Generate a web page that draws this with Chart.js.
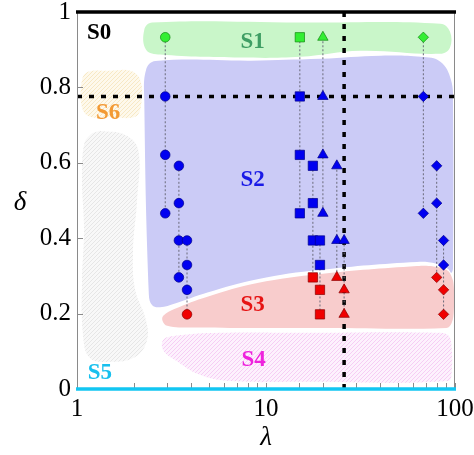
<!DOCTYPE html>
<html>
<head>
<meta charset="utf-8">
<script src="https://cdn.jsdelivr.net/npm/chart.js@4.4.0/dist/chart.umd.min.js"></script>
<style>
  html, body { margin: 0; padding: 0; background: #fff; }
</style>
</head>
<body>
<canvas id="chart" width="474" height="455"></canvas>
<script>
// tick labels
var xLabels = [1, 10, 100];

// critical values (dashed lines)
var deltaCrit = 0.776;
var lambdaCrit = 25.9;

// markers [lambda, delta]
var circleGreen = [[2.93, 0.933]];
var circleBlue = [[2.93, 0.776], [2.93, 0.621], [2.93, 0.466],
  [3.46, 0.592], [3.46, 0.493], [3.46, 0.394], [3.46, 0.296],
  [3.82, 0.394], [3.82, 0.329], [3.82, 0.263]];
var circleRed = [[3.82, 0.198]];

var squareGreen = [[15.1, 0.933]];
var squareBlue = [[15.1, 0.776], [15.1, 0.621], [15.1, 0.466],
  [17.7, 0.592], [17.7, 0.493], [17.7, 0.394],
  [19.3, 0.394], [19.3, 0.329]];
var squareRed = [[17.7, 0.296], [19.3, 0.263], [19.3, 0.198]];

var triGreen = [[20, 0.933]];
var triBlue = [[20, 0.776], [20, 0.621], [20, 0.466],
  [23.7, 0.592], [23.7, 0.394],
  [25.9, 0.394]];
var triRed = [[23.7, 0.296], [25.9, 0.263], [25.9, 0.198]];

var diaGreen = [[68, 0.933]];
var diaBlue = [[68, 0.776], [68, 0.466],
  [80, 0.592], [80, 0.493],
  [87, 0.394], [87, 0.329]];
var diaRed = [[80, 0.296], [87, 0.263], [87, 0.198]];

// region outlines [lambda, delta]
var regionS1 = [[15.2, 0.972], [83.7, 0.969], [94, 0.948], [94, 0.905], [83.7, 0.889], [31.7, 0.897],
  [15.2, 0.881], [7.3, 0.879], [2.76, 0.887], [2.32, 0.900], [2.27, 0.953], [2.5, 0.972], [15.2, 0.972]];
var regionS2 = [[8.3, 0.871], [19.5, 0.876], [40.5, 0.884], [66, 0.881], [83.7, 0.868], [95.2, 0.820],
  [97.6, 0.75], [97.6, 0.32], [95.5, 0.308], [92, 0.318], [80, 0.332], [63, 0.337],
  [19.4, 0.316], [9.0, 0.291], [4.9, 0.256], [3.3, 0.227], [2.75, 0.217], [2.5, 0.222],
  [2.4, 0.25], [2.27, 0.767], [2.32, 0.847], [2.6, 0.870], [8.3, 0.871]];
var regionS3 = [[20, 0.162], [90, 0.162], [96, 0.175], [98.6, 0.21], [98.6, 0.27], [96, 0.298],
  [90, 0.316], [77, 0.325], [63, 0.326], [19.4, 0.305], [9.0, 0.281], [4.9, 0.245],
  [3.3, 0.213], [2.86, 0.194], [2.84, 0.180], [3.0, 0.168], [4, 0.163], [20, 0.162]];
var regionS4 = [[15.2, 0.149], [83.7, 0.149], [93, 0.14], [96, 0.11], [96, 0.045], [92, 0.021],
  [15.2, 0.019], [6.5, 0.021], [4.5, 0.037], [3.3, 0.077], [2.86, 0.103], [2.86, 0.130],
  [3.3, 0.141], [5.7, 0.149], [15.2, 0.149]];
var regionS5 = [[1.32, 0.685], [1.80, 0.674], [2.11, 0.634], [2.08, 0.502], [1.98, 0.369], [2.03, 0.263],
  [2.30, 0.188], [2.35, 0.130], [2.03, 0.085], [1.50, 0.072], [1.17, 0.082], [1.076, 0.143],
  [1.063, 0.289], [1.089, 0.422], [1.063, 0.555], [1.089, 0.648], [1.17, 0.674], [1.32, 0.685]];
var regionS6 = [[1.5, 0.844], [1.91, 0.844], [2.16, 0.820], [2.185, 0.754], [2.03, 0.722], [1.5, 0.722],
  [1.172, 0.722], [1.063, 0.746], [1.063, 0.820], [1.144, 0.8415], [1.5, 0.844]];

// region labels
var regionNames = ['S0', 'S1', 'S2', 'S3', 'S4', 'S5', 'S6'];
var regionLabelLambda = [1.31, 8.5, 8.5, 8.5, 8.6, 1.32, 1.46];
var regionLabelDelta = [0.945, 0.921, 0.555, 0.223, 0.077, 0.042, 0.733];
var regionLabelColors = ['#000000', '#3f9e64', '#1a1ae6', '#e61414', '#ee22dd', '#18c0ee', '#f39a34'];

var serif = '"Liberation Serif", "Times New Roman", serif';
Chart.defaults.font.family = serif;

function toXY(pts) {
  return pts.map(function (p) { return {x: p[0], y: p[1]}; });
}

function hatch(bg, fg) {
  var c = document.createElement('canvas');
  c.width = 4; c.height = 4;
  var g = c.getContext('2d');
  g.fillStyle = bg;
  g.fillRect(0, 0, 4, 4);
  g.strokeStyle = fg;
  g.lineWidth = 1;
  g.beginPath();
  g.moveTo(0, 4); g.lineTo(4, 0);
  g.moveTo(-1, 1); g.lineTo(1, -1);
  g.moveTo(3, 5); g.lineTo(5, 3);
  g.stroke();
  return g.createPattern(c, 'repeat');
}

function region(pts, color) {
  return {
    type: 'line', data: toXY(pts), fill: 'shape', backgroundColor: color,
    borderColor: 'rgba(0,0,0,0)', borderWidth: 0, pointRadius: 0, tension: 0.4, order: 3
  };
}

function markers(pts, style, fill, edge, r) {
  return {
    type: 'scatter', data: toXY(pts), pointStyle: style, pointRadius: r,
    pointBackgroundColor: fill, pointBorderColor: edge, pointBorderWidth: 0.7, order: 0
  };
}

// dotted connectors: one per column of markers
function connectors() {
  var all = [].concat(circleGreen, circleBlue, circleRed, squareGreen, squareBlue, squareRed,
    triGreen, triBlue, triRed, diaGreen, diaBlue, diaRed);
  var cols = {};
  all.forEach(function (p) {
    var k = String(p[0]);
    if (!cols[k]) { cols[k] = {x: p[0], lo: p[1], hi: p[1]}; }
    cols[k].lo = Math.min(cols[k].lo, p[1]);
    cols[k].hi = Math.max(cols[k].hi, p[1]);
  });
  return Object.keys(cols).map(function (k) {
    var c = cols[k];
    return {
      type: 'line', data: [{x: c.x, y: c.hi}, {x: c.x, y: c.lo}],
      borderColor: '#6a6a7a', borderWidth: 1, borderDash: [2, 2], pointRadius: 0, fill: false, order: 1
    };
  });
}

var blue = '#0000f0', blueEdge = '#00008a';
var red = '#f00000', redEdge = '#8a0000';
var green = '#33ee33', greenEdge = '#118811';

var datasets = [
  markers(circleGreen, 'circle', green, greenEdge, 4.8),
  markers(circleBlue, 'circle', blue, blueEdge, 4.8),
  markers(circleRed, 'circle', red, redEdge, 4.8),
  markers(squareGreen, 'rect', green, greenEdge, 6.6),
  markers(squareBlue, 'rect', blue, blueEdge, 6.6),
  markers(squareRed, 'rect', red, redEdge, 6.6),
  markers(triGreen, 'triangle', green, greenEdge, 6),
  markers(triBlue, 'triangle', blue, blueEdge, 6),
  markers(triRed, 'triangle', red, redEdge, 6),
  markers(diaGreen, 'rectRot', green, greenEdge, 5.2),
  markers(diaBlue, 'rectRot', blue, blueEdge, 5.2),
  markers(diaRed, 'rectRot', red, redEdge, 5.2)
].concat(connectors(), [
  {
    type: 'line', data: [{x: 1, y: deltaCrit}, {x: 100, y: deltaCrit}],
    borderColor: '#000', borderWidth: 3.5, borderDash: [5, 7], pointRadius: 0, fill: false, order: 2
  },
  {
    type: 'line', data: [{x: lambdaCrit, y: 1}, {x: lambdaCrit, y: 0}],
    borderColor: '#000', borderWidth: 3.5, borderDash: [5, 7], pointRadius: 0, fill: false, order: 2
  },
  region(regionS1, '#c9f6c9'),
  region(regionS3, '#f8cccc'),
  region(regionS2, '#cbcbf6'),
  region(regionS4, hatch('#fdf1fd', '#f6cdf4')),
  region(regionS5, hatch('#f8f8f8', '#e6e6e6')),
  region(regionS6, hatch('#fef9ec', '#f7e8c4'))
]);

// frame, inward ticks, region labels and axis titles
var decorations = {
  id: 'decorations',
  afterDatasetsDraw: function (chart) {
    var ctx = chart.ctx, a = chart.chartArea;
    var sx = chart.scales.x, sy = chart.scales.y;
    ctx.save();

    ctx.strokeStyle = '#8a8a8a';
    ctx.lineWidth = 1;
    ctx.beginPath();
    sx.ticks.forEach(function (t) {
      var px = Math.round(sx.getPixelForValue(t.value)) + 0.5;
      ctx.moveTo(px, a.bottom); ctx.lineTo(px, a.bottom - 6);
    });
    sy.ticks.forEach(function (t) {
      var py = Math.round(sy.getPixelForValue(t.value)) + 0.5;
      ctx.moveTo(a.left, py); ctx.lineTo(a.left + 6, py);
    });
    ctx.moveTo(a.left + 0.5, a.top); ctx.lineTo(a.left + 0.5, a.bottom);
    ctx.moveTo(a.right - 0.5, a.top); ctx.lineTo(a.right - 0.5, a.bottom);
    ctx.stroke();

    ctx.lineWidth = 3.5;
    ctx.strokeStyle = '#000';
    ctx.beginPath();
    ctx.moveTo(a.left - 1, sy.getPixelForValue(1)); ctx.lineTo(a.right + 1, sy.getPixelForValue(1));
    ctx.stroke();
    ctx.strokeStyle = '#12c6f2';
    ctx.beginPath();
    ctx.moveTo(a.left - 1, sy.getPixelForValue(0)); ctx.lineTo(a.right + 1, sy.getPixelForValue(0));
    ctx.stroke();

    ctx.textAlign = 'center';
    ctx.textBaseline = 'middle';
    ctx.font = 'bold 23px ' + serif;
    regionNames.forEach(function (n, i) {
      ctx.fillStyle = regionLabelColors[i];
      ctx.fillText(n, sx.getPixelForValue(regionLabelLambda[i]), sy.getPixelForValue(regionLabelDelta[i]));
    });

    ctx.fillStyle = '#000';
    ctx.font = 'italic 27px ' + serif;
    ctx.fillText('\u03b4', 20, (a.top + a.bottom) / 2 + 2);
    ctx.fillText('\u03bb', (a.left + a.right) / 2, 438);
    ctx.restore();
  }
};

var chart = new Chart(document.getElementById('chart'), {
  type: 'scatter',
  data: {datasets: datasets},
  options: {
    responsive: false,
    animation: false,
    devicePixelRatio: 1,
    layout: {padding: {top: 12, right: 19, left: 0, bottom: 0}},
    plugins: {legend: {display: false}, tooltip: {enabled: false}},
    scales: {
      x: {
        type: 'logarithmic', min: 1, max: 100,
        border: {display: false},
        grid: {display: false, drawTicks: false},
        ticks: {
          autoSkip: false, maxRotation: 0, padding: 5, color: '#000',
          font: {family: serif, size: 25},
          callback: function (v) { return xLabels.indexOf(v) >= 0 ? String(v) : ''; }
        },
        afterFit: function (s) { s.height = 66; s.paddingLeft = 0; s.paddingRight = 0; }
      },
      y: {
        min: 0, max: 1,
        border: {display: false},
        grid: {display: false, drawTicks: false},
        ticks: {
          stepSize: 0.2, padding: 6, color: '#000', font: {family: serif, size: 25},
          callback: function (v) { return String(Math.round(v * 10) / 10); }
        },
        afterFit: function (s) { s.width = 77; s.paddingTop = 0; s.paddingBottom = 0; }
      }
    }
  },
  plugins: [decorations]
});
</script>
</body>
</html>
